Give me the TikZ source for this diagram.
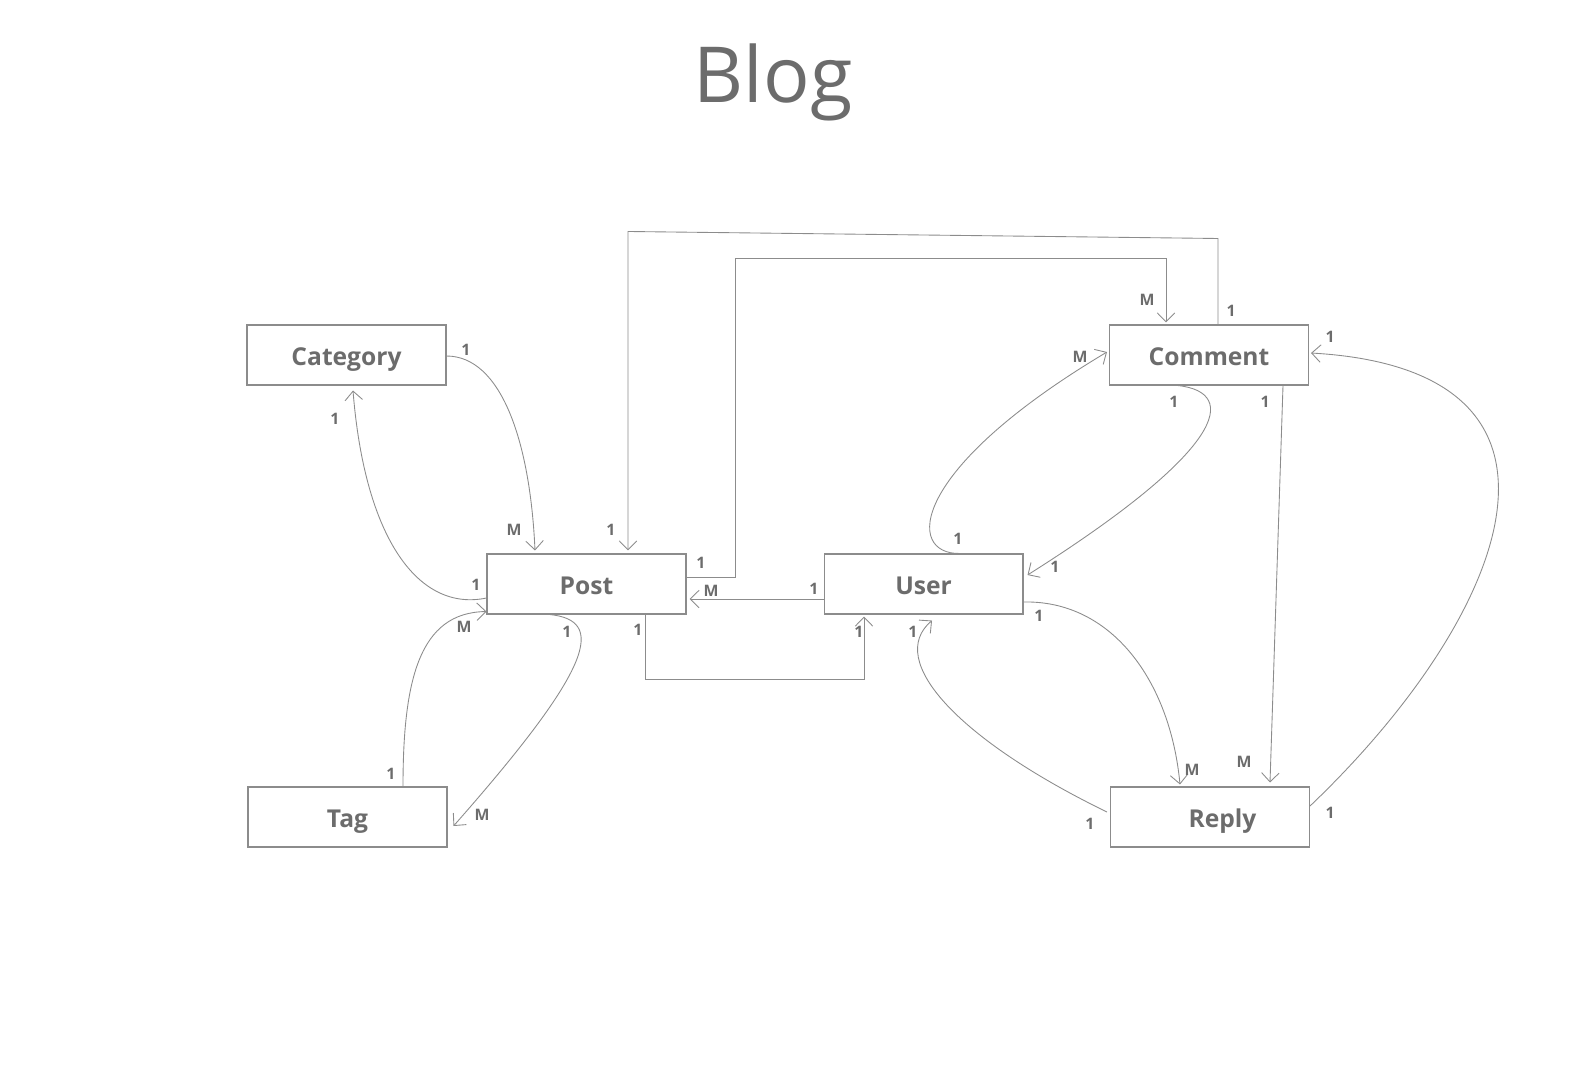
\documentclass[tikz,border=0pt]{standalone}
\usepackage{fontspec}
\setmainfont{Open Sans}
\usetikzlibrary{positioning,calc,arrows.meta}
\definecolor{inkgray}{RGB}{108,108,108}
\definecolor{linegray}{RGB}{140,140,140}

\begin{document}
\begin{tikzpicture}[
    x=0.02cm, y=-0.02cm,
    entity/.style={rectangle, draw=linegray, line width=0.6pt, minimum width=3.98cm, minimum height=1.2cm, text height=11.4pt, text depth=0pt, font=\fontsize{14}{16}\selectfont\bfseries, text=inkgray},
    card/.style={font=\fontsize{9}{10}\selectfont\bfseries, text=inkgray, inner sep=0pt},
    rel/.style={-{Straight Barb[length=0.18cm, width=0.35cm]}, linegray, line width=0.5pt},
    title/.style={font=\fontsize{44}{50}\selectfont, text=inkgray}
]
\useasboundingbox (0,0) rectangle (1569,1080);

% Title
\node[title, anchor=base] (heading) at (773,102) {Blog};

% Entities
\node[entity] (category) at (346.5,355) {Category};
\node[entity] (post) at (586.5,584) {Post};
\node[entity] (user) at (923.5,584) {User};
\node[entity] (comment) at (1209,355) {Comment};
\node[entity] (tag) at (347.5,817) {Tag};
\node[entity] (reply) at (1210,817) {\hspace{0.5cm}Reply};

% Category <-> Post
\draw[rel] ($(category.east)+(0,1)$) .. controls +(54,0) and +(-5,-111) .. ($(post.north)+(-51.5,-3)$);
\draw[rel] ($(post.west)+(0,14)$) .. controls +(-67,14) and +(12,150) .. ($(category.south)+(6.5,5)$);
\node[card] at (466,350) {1};
\node[card] at (514,530) {M};
\node[card] at (476,585) {1};
\node[card] at (335,419) {1};

% Tag <-> Post
\draw[rel] ($(tag.north)+(55.5,0)$) .. controls +(0,-107) and +(-67,1) .. ($(post.south west)+(0,-3)$);
\draw[rel] ($(post.south)+(-36.5,0)$) .. controls +(55,6) and +(142,-161) .. ($(tag.east)+(6,9)$);
\node[card] at (391,774) {1};
\node[card] at (464,627) {M};
\node[card] at (567,632) {1};
\node[card] at (482,815) {M};

% Comment <-> Post
\draw[rel] ($(comment.north)+(9,0)$) -- ($(comment.north)+(9,-86)$) -- ($(post.north)+(41.5,-322)$) -- ($(post.north)+(41.5,-3)$);
\draw[rel] ($(post.east)+(0,-7)$) -- ++(49,0) |- ($(comment.north)+(-43,-66)$) -- ($(comment.north)+(-43,-2)$);
\node[card] at (1231,311) {1};
\node[card] at (611,530) {1};
\node[card] at (701,563) {1};
\node[card] at (1147,300) {M};

% User <-> Post
\draw[rel] ($(user.west)+(0,15)$) -- ($(post.east)+(3,15)$);
\draw[rel] ($(post.south)+(58.5,0)$) -- ++(0,65) -| ($(user.south)+(-59.5,2)$);
\node[card] at (814,589) {1};
\node[card] at (711,591) {M};
\node[card] at (638,630) {1};
\node[card] at (859,632) {1};

% User <-> Comment
\draw[rel] ($(user.north)+(36.5,0)$) .. controls +(-55,1) and +(-198,118) .. ($(comment.west)+(-2,-3)$);
\draw[rel] ($(comment.south)+(-31,0)$) .. controls +(62,7) and +(198,-125) .. ($(user.east)+(4,-9)$);
\node[card] at (958,539) {1};
\node[card] at (1080,357) {M};
\node[card] at (1174,402) {1};
\node[card] at (1055,567) {1};

% User <-> Reply
\draw[rel] ($(user.east)+(0,18)$) .. controls +(87,-2) and +(-10,-105) .. ($(reply.north)+(-30,-2)$);
\draw[rel] ($(reply.west)+(-3,-5)$) .. controls +(-148,-72) and +(-47,40) .. ($(user.south)+(8.5,6)$);
\node[card] at (1039,616) {1};
\node[card] at (1192,770) {M};
\node[card] at (1090,824) {1};
\node[card] at (913,632) {1};

% Comment <-> Reply
\draw[rel] ($(comment.south)+(74,0)$) -- ($(reply.north)+(60,-4)$);
\draw[rel] ($(reply.east)+(0,-11)$) .. controls +(195,-186) and +(300,17) .. ($(comment.east)+(2,-2)$);
\node[card] at (1265,402) {1};
\node[card] at (1244,762) {M};
\node[card] at (1330,813) {1};
\node[card] at (1330,337) {1};

\end{tikzpicture}
\end{document}
